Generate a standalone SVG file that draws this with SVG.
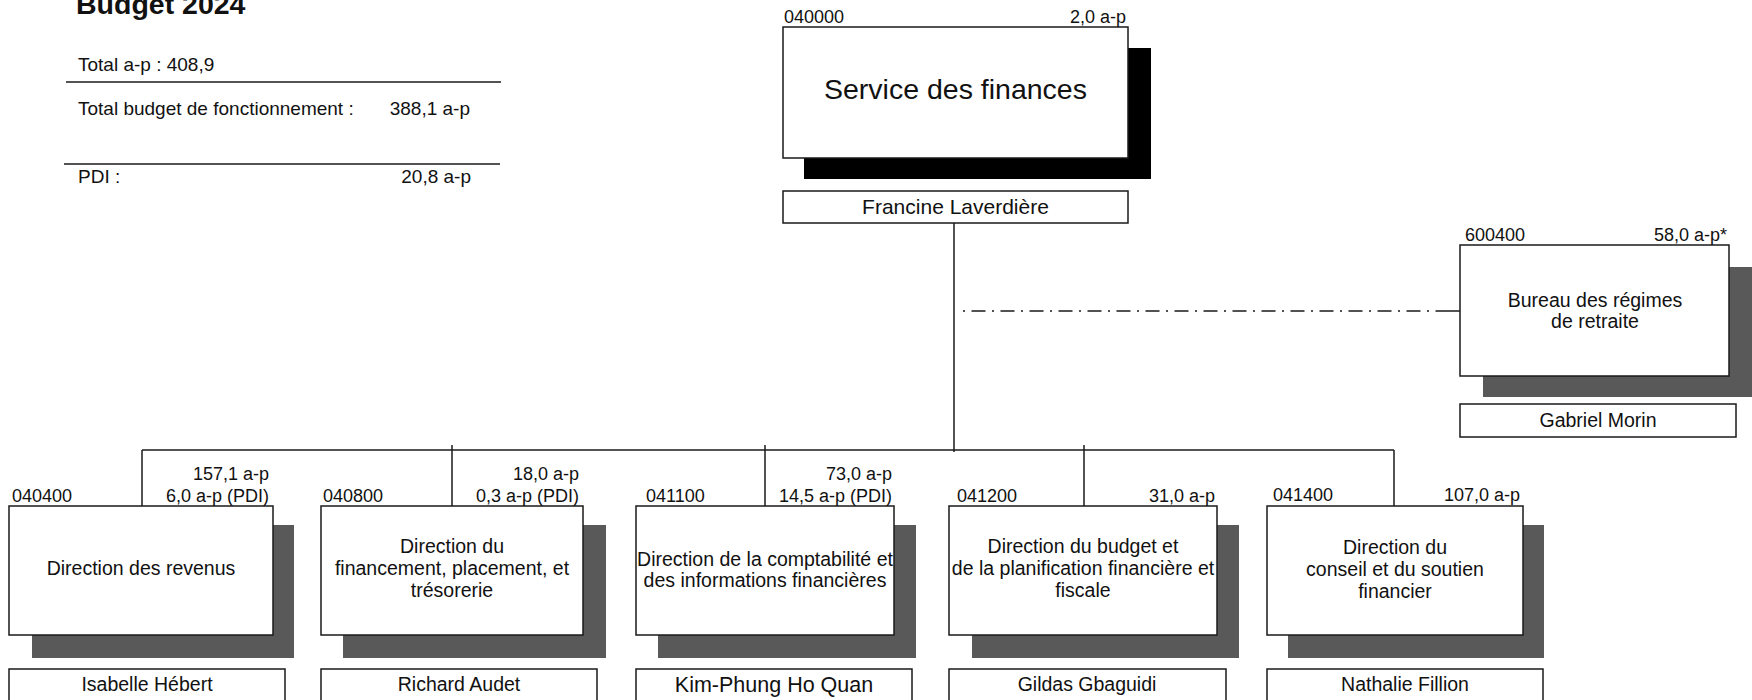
<svg xmlns="http://www.w3.org/2000/svg" width="1752" height="700" viewBox="0 0 1752 700">
<style>
text{font-family:"Liberation Sans",Arial,sans-serif;fill:#111}
.box{fill:#fff;stroke:#1a1a1a;stroke-width:1.5}
.sh{fill:#595959}
.shb{fill:#000}
.ln{stroke:#1a1a1a;stroke-width:1.5;fill:none}
.lbl{font-size:18px}
.tx{font-size:19.5px;text-anchor:middle}
.nm{font-size:19.5px;text-anchor:middle}
.r{text-anchor:end}
.m{text-anchor:middle}
</style>
<rect width="1752" height="700" fill="#fff"/>
<g id="summary">
<text x="76" y="14" style="font-size:28.5px;font-weight:bold">Budget 2024</text>
<text x="78" y="71" style="font-size:19px">Total a-p : 408,9</text>
<line class="ln" x1="66" y1="82" x2="501" y2="82"/>
<text x="78" y="115" style="font-size:19px">Total budget de fonctionnement :</text>
<text x="470" y="115" class="r" style="font-size:19px">388,1 a-p</text>
<line class="ln" x1="64" y1="164" x2="500" y2="164"/>
<text x="78" y="183" style="font-size:19px">PDI :</text>
<text x="471" y="183" class="r" style="font-size:19px">20,8 a-p</text>
</g>
<g id="connectors">
<line class="ln" x1="954" y1="223" x2="954" y2="452"/>
<line class="ln" x1="142" y1="450" x2="1394" y2="450"/>
<line class="ln" x1="142" y1="450" x2="142" y2="506"/>
<line class="ln" x1="452" y1="445" x2="452" y2="506"/>
<line class="ln" x1="765" y1="445" x2="765" y2="506"/>
<line class="ln" x1="1084" y1="445" x2="1084" y2="506"/>
<line class="ln" x1="1394" y1="450" x2="1394" y2="506"/>
<line class="ln" x1="963" y1="311" x2="1448" y2="311" stroke-dasharray="2 6.5 14 6.5"/>
<line class="ln" x1="1448" y1="311" x2="1460" y2="311"/>
</g>
<g id="n040000">
<rect class="shb" x="804" y="48" width="347" height="131"/>
<rect class="box" x="783" y="27" width="345" height="131"/>
<text class="lbl" x="784" y="23">040000</text>
<text class="lbl r" x="1126" y="23">2,0 a-p</text>
<text x="955.5" y="99" class="m" style="font-size:28.5px">Service des finances</text>
<rect class="box" x="783" y="191" width="345" height="32"/>
<text x="955.5" y="214" class="m" style="font-size:21px">Francine Laverdière</text>
</g>
<g id="n600400">
<rect class="sh" x="1483" y="267" width="269" height="130"/>
<rect class="box" x="1460" y="245" width="269" height="131"/>
<text class="lbl" x="1465" y="241">600400</text>
<text class="lbl r" x="1727" y="241">58,0 a-p*</text>
<text class="tx" x="1595" y="307">Bureau des régimes</text>
<text class="tx" x="1595" y="328">de retraite</text>
<rect class="box" x="1460" y="404" width="276" height="33"/>
<text class="nm" x="1598" y="427">Gabriel Morin</text>
</g>
<g id="n040400">
<rect class="sh" x="32" y="525" width="262" height="133"/>
<rect class="box" x="9" y="506" width="264" height="129"/>
<text class="lbl" x="12" y="502">040400</text>
<text class="lbl r" x="269" y="480">157,1 a-p</text>
<text class="lbl r" x="269" y="502">6,0 a-p (PDI)</text>
<text class="tx" x="141" y="575">Direction des revenus</text>
<rect class="box" x="9" y="669" width="276" height="33"/>
<text class="nm" x="147" y="691">Isabelle Hébert</text>
</g>
<g id="n040800">
<rect class="sh" x="343" y="525" width="263" height="133"/>
<rect class="box" x="321" y="506" width="262" height="129"/>
<text class="lbl" x="323" y="502">040800</text>
<text class="lbl r" x="579" y="480">18,0 a-p</text>
<text class="lbl r" x="579" y="502">0,3 a-p (PDI)</text>
<text class="tx" x="452" y="553">Direction du</text>
<text class="tx" x="452" y="575">financement, placement, et</text>
<text class="tx" x="452" y="597">trésorerie</text>
<rect class="box" x="321" y="669" width="276" height="33"/>
<text class="nm" x="459" y="691">Richard Audet</text>
</g>
<g id="n041100">
<rect class="sh" x="658" y="525" width="258" height="133"/>
<rect class="box" x="636" y="506" width="258" height="129"/>
<text class="lbl" x="646" y="502">041100</text>
<text class="lbl r" x="892" y="480">73,0 a-p</text>
<text class="lbl r" x="892" y="502">14,5 a-p (PDI)</text>
<text class="tx" x="765" y="566">Direction de la comptabilité et</text>
<text class="tx" x="765" y="587">des informations financières</text>
<rect class="box" x="636" y="669" width="276" height="33"/>
<text class="nm" x="774" y="692" style="font-size:21.5px">Kim-Phung Ho Quan</text>
</g>
<g id="n041200">
<rect class="sh" x="972" y="525" width="267" height="133"/>
<rect class="box" x="949" y="506" width="268" height="129"/>
<text class="lbl" x="957" y="502">041200</text>
<text class="lbl r" x="1215" y="502">31,0 a-p</text>
<text class="tx" x="1083" y="553">Direction du budget et</text>
<text class="tx" x="1083" y="575">de la planification financière et</text>
<text class="tx" x="1083" y="597">fiscale</text>
<rect class="box" x="949" y="669" width="277" height="33"/>
<text class="nm" x="1087" y="691">Gildas Gbaguidi</text>
</g>
<g id="n041400">
<rect class="sh" x="1288" y="525" width="256" height="133"/>
<rect class="box" x="1267" y="506" width="256" height="129"/>
<text class="lbl" x="1273" y="501">041400</text>
<text class="lbl r" x="1520" y="501">107,0 a-p</text>
<text class="tx" x="1395" y="554">Direction du</text>
<text class="tx" x="1395" y="576">conseil et du soutien</text>
<text class="tx" x="1395" y="598">financier</text>
<rect class="box" x="1267" y="669" width="276" height="33"/>
<text class="nm" x="1405" y="691">Nathalie Fillion</text>
</g>
</svg>
